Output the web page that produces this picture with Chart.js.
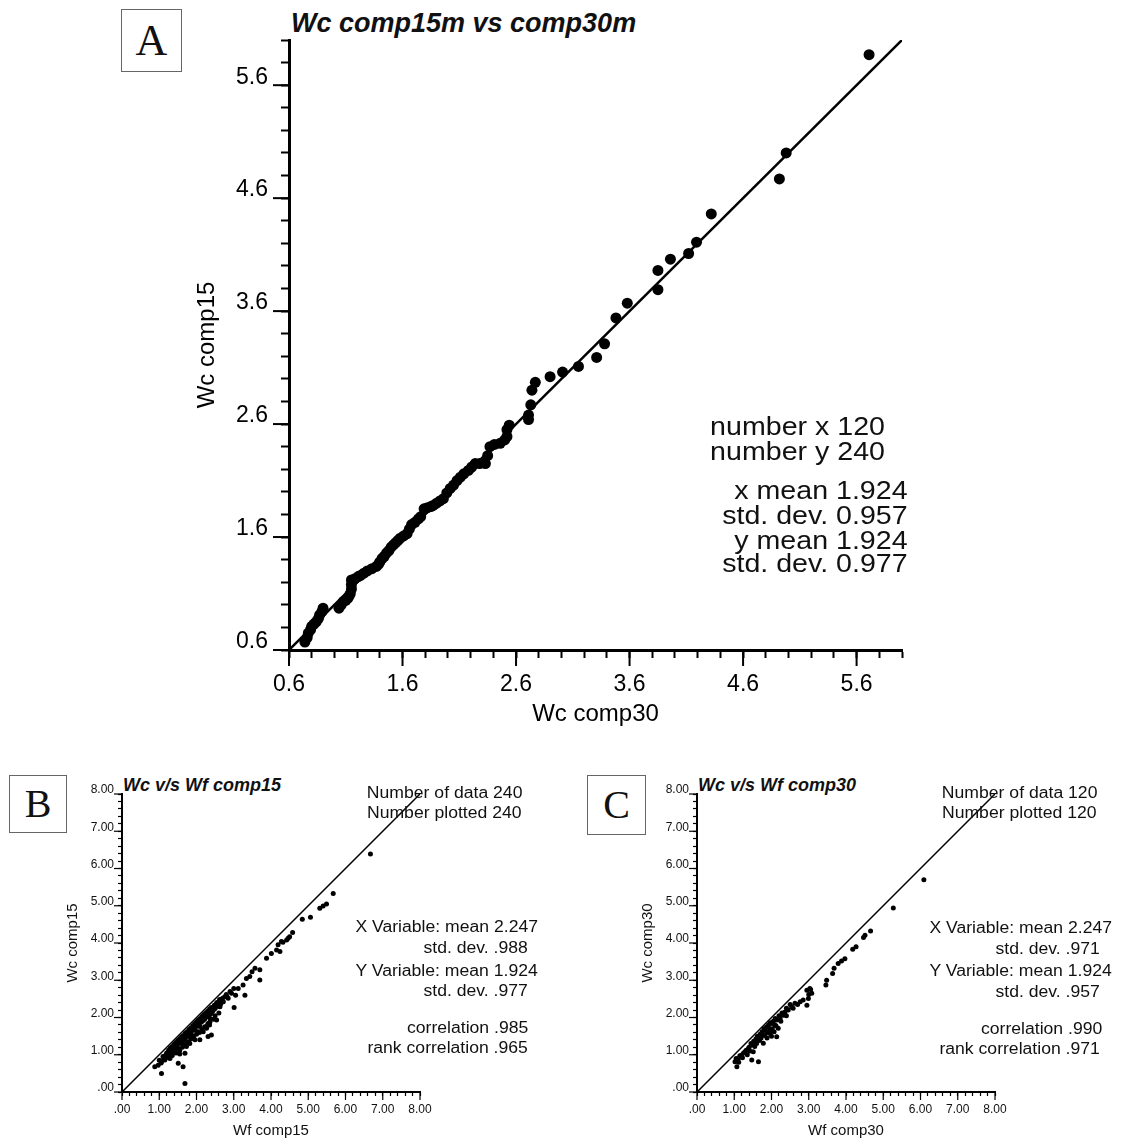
<!DOCTYPE html>
<html>
<head>
<meta charset="utf-8">
<script src="https://cdn.jsdelivr.net/npm/chart.js@4"></script>
<style>
  body { margin: 0; background: #fff; }
  #page { position: relative; width: 1121px; height: 1144px; overflow: hidden; font-family: "Liberation Sans", Arial, sans-serif; color: #111; }
  canvas { position: absolute; }
  .box { position: absolute; border: 1px solid #666; box-sizing: border-box; font-family: "Liberation Serif", serif; text-align: center; color: #111; }
  .txt { position: absolute; white-space: nowrap; text-align: right; transform-origin: right center; }
  .ttl { position: absolute; white-space: nowrap; font-weight: bold; font-style: italic; }
</style>
</head>
<body>
<div id="page">
  <div class="box" style="left:121px;top:9px;width:61px;height:63px;font-size:44px;line-height:61px;">A</div>
  <div class="box" style="left:9px;top:775px;width:58px;height:58px;font-size:40px;line-height:56px;">B</div>
  <div class="box" style="left:587px;top:775px;width:59px;height:60px;font-size:40px;line-height:58px;">C</div>

  <div class="ttl" style="left:291px;top:8px;font-size:27px;line-height:30px;">Wc comp15m vs comp30m</div>
  <div class="ttl" style="left:123px;top:775px;font-size:18px;line-height:20px;">Wc v/s Wf comp15</div>
  <div class="ttl" style="left:698px;top:775px;font-size:18px;line-height:20px;">Wc v/s Wf comp30</div>

  <canvas id="chartA" width="1121" height="733" style="left:0;top:0;width:1121px;height:733px;"></canvas>
  <canvas id="chartB" width="560" height="384" style="left:0;top:760px;width:560px;height:384px;"></canvas>
  <canvas id="chartC" width="561" height="384" style="left:560px;top:760px;width:561px;height:384px;"></canvas>
</div>
<script>
// Q-Q pairs, panel A
const qqX = [0.74,0.76,0.77,0.79,0.80,0.82,0.84,0.86,0.87,0.89,0.90,1.04,1.06,1.08,1.10,1.12,1.13,1.14,1.15,1.15,
  1.15,1.18,1.21,1.23,1.26,1.29,1.33,1.37,1.39,1.40,1.42,1.44,1.46,1.48,1.50,1.52,1.54,1.56,1.58,1.61,
  1.64,1.66,1.68,1.71,1.74,1.76,1.79,1.82,1.85,1.87,1.90,1.93,1.96,1.99,2.02,2.05,2.08,2.11,2.14,2.18,
  2.21,2.24,2.28,2.33,2.35,2.37,2.41,2.46,2.50,2.52,2.52,2.54,2.71,2.71,2.73,2.74,2.77,2.90,3.01,3.15,
  3.31,3.38,3.48,3.58,3.85,3.85,3.96,4.12,4.19,4.32,4.92,4.98,5.71];
const qqY = [0.67,0.71,0.75,0.78,0.81,0.83,0.85,0.88,0.91,0.94,0.97,0.97,1.00,1.03,1.04,1.06,1.08,1.10,1.14,1.18,
  1.22,1.23,1.25,1.26,1.28,1.30,1.32,1.34,1.36,1.38,1.41,1.43,1.46,1.48,1.51,1.53,1.55,1.57,1.59,1.61,
  1.63,1.67,1.71,1.73,1.76,1.78,1.85,1.86,1.87,1.88,1.90,1.92,1.94,1.99,2.03,2.06,2.10,2.13,2.16,2.19,
  2.22,2.25,2.25,2.25,2.32,2.40,2.42,2.43,2.46,2.49,2.55,2.59,2.64,2.68,2.77,2.90,2.97,3.02,3.06,3.11,
  3.19,3.31,3.54,3.67,3.79,3.96,4.06,4.11,4.21,4.46,4.77,5.00,5.87];

// Wf (x) vs Wc (y), comp15, panel B
const b15X = [6.67,5.67,5.49,5.40,5.31,5.06,4.84,4.58,4.50,4.46,4.42,4.32,4.28,4.24,4.19,4.15,4.01,3.88,3.70,3.70,
  3.57,3.49,3.43,3.34,3.25,3.12,3.30,3.05,2.94,3.01,2.85,2.76,2.67,2.63,2.54,2.45,2.40,2.36,2.54,2.31,
  2.23,2.14,2.27,2.40,2.31,2.09,2.05,1.96,1.87,1.96,2.09,1.78,1.69,1.73,1.60,1.51,1.69,1.42,1.33,1.29,
  1.51,1.64,1.15,1.06,0.97,0.88,1.06,1.69,
  1.00,1.10,1.20,1.25,1.30,1.35,1.40,1.45,1.50,1.55,1.60,1.65,1.70,1.75,1.80,1.85,1.90,1.95,2.00,2.05,
  2.10,2.15,2.20,2.25,2.30,2.35,2.40,2.48,2.55,2.62,2.70,2.80,2.90,3.00,
  1.05,1.15,1.22,1.30,1.35,1.40,1.45,1.48,1.52,1.58,1.62,1.66,1.72,1.76,1.82,1.86,1.92,1.97,2.02,2.07,
  2.12,2.18,2.22,2.28,2.33,2.38,2.44,2.50,2.58,2.65,2.72,
  1.25,1.35,1.45,1.55,1.62,1.70,1.78,1.85,1.92,2.00,2.08,2.15,2.22,2.30,2.36,2.45,2.50,2.60,
  1.12,1.18,1.28,1.38,1.48,1.57,1.67,1.77,1.88,1.98,2.03,2.13,2.26,2.42,2.66,2.82,
  1.82,2.18,2.35,1.55];
const b15Y = [6.39,5.33,5.05,4.99,4.93,4.69,4.64,4.28,4.17,4.13,4.08,4.02,4.04,3.77,3.95,3.81,3.72,3.59,3.28,3.01,
  3.32,3.23,3.10,3.05,2.87,2.78,2.60,2.60,2.65,2.27,2.52,2.56,2.42,2.29,2.38,2.20,2.11,1.98,1.93,1.84,
  2.02,1.89,1.71,1.53,1.49,1.76,1.62,1.66,1.53,1.40,1.40,1.49,1.40,1.22,1.31,1.17,1.04,1.08,0.99,0.90,
  0.77,0.68,0.86,0.81,0.72,0.68,0.50,0.23,
  0.85,0.95,1.05,1.12,1.18,1.22,1.28,1.33,1.38,1.43,1.48,1.52,1.58,1.62,1.68,1.72,1.78,1.83,1.88,1.93,
  1.97,2.03,2.08,2.12,2.17,2.22,2.27,2.33,2.40,2.48,2.52,2.62,2.70,2.78,
  0.78,0.95,0.98,1.05,1.10,1.15,1.20,1.25,1.30,1.35,1.40,1.45,1.50,1.55,1.58,1.63,1.68,1.73,1.78,1.83,
  1.87,1.92,1.96,2.02,2.07,2.12,2.18,2.24,2.30,2.36,2.42,
  0.92,0.98,1.05,1.12,1.20,1.28,1.35,1.42,1.48,1.55,1.60,1.68,1.75,1.80,1.88,1.95,2.05,2.12,
  0.90,1.00,1.08,1.18,1.30,1.38,1.47,1.58,1.66,1.78,1.85,1.95,2.06,2.23,2.44,2.55,
  1.30,1.62,1.80,1.02];

// Wf (x) vs Wc (y), comp30, panel C
const c30X = [6.09,5.27,4.66,4.51,4.47,4.27,4.18,3.97,3.88,3.79,3.68,3.64,3.48,3.46,3.03,2.95,3.08,2.99,2.95,2.85,
  2.77,2.63,2.54,2.45,2.36,2.32,2.23,2.14,2.09,2.18,2.14,2.01,1.91,1.83,1.96,1.74,1.65,1.78,1.56,1.47,
  1.38,1.29,1.51,1.20,1.11,1.02,1.07,1.47,1.65,
  1.05,1.15,1.25,1.32,1.40,1.45,1.52,1.58,1.62,1.70,1.75,1.80,1.86,1.92,1.97,2.05,2.10,2.20,2.28,2.40,
  2.50,1.12,1.22,1.35,1.42,1.55,1.60,1.68,1.72,1.82,1.88,1.95,2.02,2.07,2.12,2.25,2.40,2.58,2.70,1.88,
  2.00,3.00,3.05];
const c30Y = [5.70,4.94,4.32,4.21,4.15,3.90,3.83,3.58,3.52,3.45,3.32,3.18,3.00,2.87,2.78,2.73,2.65,2.51,2.33,2.47,
  2.42,2.38,2.29,2.20,2.15,2.06,1.98,1.93,1.80,1.71,1.48,1.84,1.75,1.66,1.57,1.53,1.44,1.31,1.35,1.26,
  1.17,1.08,1.08,0.99,0.90,0.81,0.68,0.86,0.81,
  0.90,0.97,1.05,1.12,1.20,1.30,1.36,1.42,1.50,1.56,1.62,1.70,1.74,1.80,1.86,1.90,1.97,2.05,2.12,2.25,
  2.35,0.80,0.92,1.00,1.10,1.22,1.30,1.38,1.45,1.52,1.60,1.65,1.70,1.62,1.78,1.90,2.05,2.25,2.35,1.45,
  1.50,2.62,2.75];

// axis ranges, 1:1 reference lines and labelled ticks
const rangeA = [0.6, 6.0];
const rangeBC = [0, 8];
const majorA = [0.6, 1.6, 2.6, 3.6, 4.6, 5.6];
const majorBC = [0, 1, 2, 3, 4, 5, 6, 7, 8];

const toPoints = (xs, ys) => xs.map((x, i) => ({ x: x, y: ys[i] }));
const isMajor = (list, v) => list.some(m => Math.abs(m - v) < 1e-6);

// longer marks at the labelled ticks
const majorTicks = {
  id: "majorTicks",
  afterDraw(chart, args, opts) {
    const { ctx, scales: { x, y } } = chart;
    ctx.save();
    ctx.strokeStyle = "#000";
    ctx.lineWidth = opts.width;
    opts.values.forEach(v => {
      const px = x.getPixelForValue(v);
      ctx.beginPath(); ctx.moveTo(px, x.top); ctx.lineTo(px, x.top + opts.len); ctx.stroke();
      const py = y.getPixelForValue(v);
      ctx.beginPath(); ctx.moveTo(y.right, py); ctx.lineTo(y.right - opts.len, py); ctx.stroke();
    });
    ctx.restore();
  }
};

function makeChart(id, cfg) {
  const axis = (which) => ({
    type: "linear",
    position: which === "x" ? "bottom" : "left",
    min: cfg.range[0],
    max: cfg.range[1],
    afterFit: s => { if (which === "x") s.height = cfg.xHeight; else s.width = cfg.yWidth; },
    border: { display: true, color: "#000", width: cfg.borderWidth },
    grid: { drawOnChartArea: false, drawTicks: true, tickLength: cfg.tickLen, tickColor: "#000", tickWidth: cfg.tickWidth },
    ticks: {
      stepSize: 0.2,
      autoSkip: false,
      maxRotation: 0,
      minRotation: 0,
      color: cfg.textColor,
      font: { family: "Liberation Sans", size: cfg.tickSize },
      padding: which === "x" ? cfg.xPad : cfg.yPad,
      labelOffset: which === "x" ? 0 : cfg.yLabelOffset,
      callback: v => isMajor(cfg.majors, v) ? cfg.fmt(v) : ""
    },
    title: {
      display: true,
      text: which === "x" ? cfg.xTitle : cfg.yTitle,
      color: cfg.textColor,
      font: { family: "Liberation Sans", size: cfg.titleSize },
      padding: 4
    }
  });

  return new Chart(document.getElementById(id), {
    type: "scatter",
    data: {
      datasets: [
        {
          type: "line",
          data: toPoints(cfg.range, cfg.range),
          borderColor: "#000",
          borderWidth: cfg.lineWidth,
          pointRadius: 0,
          fill: false
        },
        {
          data: toPoints(cfg.xs, cfg.ys),
          backgroundColor: "#000",
          borderWidth: 0,
          pointRadius: cfg.dot
        }
      ]
    },
    options: {
      responsive: false,
      animation: false,
      devicePixelRatio: 1,
      layout: { padding: cfg.padding },
      plugins: {
        legend: { display: false },
        tooltip: { enabled: false },
        majorTicks: { values: cfg.majors, len: cfg.majorLen, width: cfg.tickWidth }
      },
      scales: { x: axis("x"), y: axis("y") }
    },
    plugins: [majorTicks]
  });
}

makeChart("chartA", {
  xs: qqX, ys: qqY, range: rangeA, majors: majorA,
  fmt: v => v.toFixed(1),
  xTitle: "Wc comp30", yTitle: "Wc comp15",
  padding: { left: 189, right: 219, top: 40, bottom: 0 },
  yWidth: 100, xHeight: 83,
  borderWidth: 3, tickLen: 8, majorLen: 16, tickWidth: 2,
  tickSize: 23, titleSize: 24, xPad: 13, yPad: 13, yLabelOffset: -8,
  lineWidth: 2.5, dot: 5.5, textColor: "#000"
});

const fmtBC = v => Math.abs(v) < 1e-6 ? ".00" : v.toFixed(2);

makeChart("chartB", {
  xs: b15X, ys: b15Y, range: rangeBC, majors: majorBC, fmt: fmtBC,
  xTitle: "Wf comp15", yTitle: "Wc comp15",
  padding: { left: 60, right: 140, top: 34, bottom: 0 },
  yWidth: 62, xHeight: 52,
  borderWidth: 2, tickLen: 4, majorLen: 8, tickWidth: 1.2,
  tickSize: 12, titleSize: 15, xPad: 6, yPad: 4, yLabelOffset: -4,
  lineWidth: 1.5, dot: 2.5, textColor: "#111"
});

makeChart("chartC", {
  xs: c30X, ys: c30Y, range: rangeBC, majors: majorBC, fmt: fmtBC,
  xTitle: "Wf comp30", yTitle: "Wc comp30",
  padding: { left: 75, right: 126, top: 34, bottom: 0 },
  yWidth: 62, xHeight: 52,
  borderWidth: 2, tickLen: 4, majorLen: 8, tickWidth: 1.2,
  tickSize: 12, titleSize: 15, xPad: 6, yPad: 4, yLabelOffset: -4,
  lineWidth: 1.5, dot: 2.5, textColor: "#111"
});

// statistics text blocks: [text, right edge, centre y, font size]
const statLines = [
  ["number x 120", 885, 426, 26], ["number y 240", 885, 451, 26],
  ["x mean 1.924", 908, 490, 26], ["std. dev. 0.957", 908, 515, 26],
  ["y mean 1.924", 908, 540, 26], ["std. dev. 0.977", 908, 563, 26],
  ["Number of data 240", 522, 793, 16], ["Number plotted 240", 522, 813, 16],
  ["X Variable: mean 2.247", 538, 927, 16], ["std. dev. .988", 528, 948, 16],
  ["Y Variable: mean 1.924", 538, 971, 16], ["std. dev. .977", 528, 991, 16],
  ["correlation .985", 528, 1028, 16], ["rank correlation .965", 528, 1048, 16],
  ["Number of data 120", 1097, 793, 16], ["Number plotted 120", 1097, 813, 16],
  ["X Variable: mean 2.247", 1112, 928, 16], ["std. dev. .971", 1100, 949, 16],
  ["Y Variable: mean 1.924", 1112, 971, 16], ["std. dev. .957", 1100, 992, 16],
  ["correlation .990", 1102, 1029, 16], ["rank correlation .971", 1100, 1049, 16]
];
const page = document.getElementById("page");
statLines.forEach(([t, r, cy, size]) => {
  const d = document.createElement("div");
  d.className = "txt";
  d.textContent = t;
  d.style.fontSize = size + "px";
  d.style.lineHeight = (size + 4) + "px";
  d.style.top = (cy - (size + 4) / 2) + "px";
  d.style.right = (1121 - r) + "px";
  d.style.transform = "scaleX(1.1)";
  page.appendChild(d);
});
</script>
</body>
</html>
